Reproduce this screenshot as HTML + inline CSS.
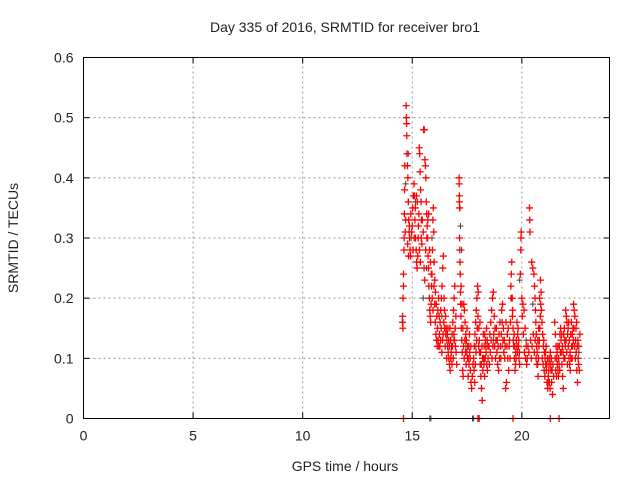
<!DOCTYPE html>
<html><head><meta charset="utf-8"><style>
body{margin:0;background:#fff}
svg text{font-family:"Liberation Sans",sans-serif;font-size:14px;fill:#222}
</style></head><body>
<svg id="chart" width="640" height="480" xmlns="http://www.w3.org/2000/svg">
<text x="345" y="32" text-anchor="middle">Day 335 of 2016, SRMTID for receiver bro1</text>
<text x="345" y="471" text-anchor="middle">GPS time / hours</text>
<text transform="translate(18,238) rotate(-90)" text-anchor="middle">SRMTID / TECUs</text>
<g id="grid"></g>
<g id="axes"></g>
<g id="grey" stroke="#404040" stroke-width="1"></g>
<g id="red" stroke="#ff0000" stroke-width="1.3"></g>
<rect x="83.5" y="57.5" width="526" height="361" fill="none" stroke="#000"/>
</svg>
<script>
const xTicks=[0,5,10,15,20];
const yTicks=[0,0.1,0.2,0.3,0.4,0.5,0.6];
const yTickLabels=["0","0.1","0.2","0.3","0.4","0.5","0.6"];
const redPoints=[
[14.55,0.16],[14.56,0.17],[14.57,0.15],[14.58,0.2],[14.6,0.22],[14.6,0.24],[14.62,0.28],[14.63,0.3],[14.64,0.34],[14.65,0.38],[14.66,0.42],
[14.72,0.52],[14.73,0.5],[14.74,0.49],[14.75,0.47],[14.76,0.44],[14.78,0.42],[14.8,0.4],[14.82,0.36],[14.84,0.33],[14.86,0.31],[14.88,0.3],[14.9,0.28],[14.92,0.27],
[15.0,0.32],[15.02,0.35],[15.05,0.37],[15.08,0.39],[15.1,0.37],[15.12,0.33],[15.15,0.3],[15.18,0.28],[15.2,0.26],[15.22,0.25],[15.25,0.27],[15.28,0.32],[15.3,0.34],[15.32,0.45],[15.34,0.44],[15.36,0.41],[15.38,0.38],[15.4,0.36],[15.42,0.33],[15.44,0.29],
[15.52,0.48],[15.55,0.48],[15.58,0.43],[15.6,0.42],[15.62,0.4],
[15.64,0.36],[15.66,0.34],[15.68,0.32],[15.7,0.3],[15.72,0.27],[15.74,0.25],[15.76,0.22],[15.78,0.2],[15.8,0.18],[15.82,0.17],[15.84,0.16],[15.86,0.19],[15.88,0.22],[15.9,0.24],[15.92,0.28],[15.94,0.33],[15.96,0.35],[15.98,0.31],
[16.0,0.26],[16.03,0.23],[16.06,0.21],[16.09,0.19],[16.12,0.17],[16.15,0.15],[16.18,0.13],[16.21,0.12],[16.24,0.14],[16.27,0.16],[16.3,0.18],[16.33,0.2],[16.36,0.22],[16.39,0.25],[16.42,0.27],[16.45,0.2],[16.48,0.15],[16.5,0.12],
[16.52,0.17],[16.55,0.15],[16.58,0.13],[16.61,0.12],[16.64,0.11],[16.67,0.1],[16.7,0.09],[16.73,0.08],[16.76,0.1],[16.79,0.12],[16.82,0.14],[16.85,0.16],[16.88,0.18],[16.91,0.2],[16.94,0.22],[16.97,0.12],[17.0,0.11],[17.03,0.09],
[17.14,0.4],[17.14,0.39],[17.15,0.37],[17.15,0.36],[17.16,0.35],[17.16,0.3],[17.17,0.28],[17.18,0.26],[17.19,0.24],[17.2,0.21],[17.21,0.19],[17.22,0.17],[17.24,0.15],[17.26,0.13],[17.28,0.11],[17.3,0.08],[17.32,0.07],
[17.35,0.19],[17.38,0.18],[17.41,0.16],[17.44,0.14],[17.47,0.13],[17.5,0.15],[17.53,0.12],[17.56,0.1],[17.59,0.09],[17.62,0.11],[17.65,0.08],[17.68,0.06],[17.71,0.05],[17.74,0.07],[17.77,0.09],
[17.8,0.1],[17.83,0.12],[17.86,0.14],[17.89,0.16],[17.92,0.18],[17.95,0.2],[17.98,0.22],[18.01,0.21],[18.04,0.15],[18.07,0.11],[18.1,0.09],[18.13,0.07],[18.16,0.05],[18.19,0.03],[18.22,0.08],[18.25,0.1],[18.28,0.12],[18.31,0.14],[18.34,0.13],[18.37,0.11],[18.4,0.09],[18.43,0.08],[18.46,0.1],
[18.5,0.12],[18.54,0.14],[18.58,0.16],[18.62,0.18],[18.66,0.2],[18.7,0.21],[18.74,0.17],[18.78,0.15],[18.82,0.13],[18.86,0.11],[18.9,0.09],[18.94,0.08],[18.98,0.1],[19.02,0.12],[19.06,0.14],[19.1,0.16],[19.14,0.13],[19.18,0.11],[19.22,0.1],[19.26,0.05],[19.3,0.06],[19.34,0.14],[19.38,0.15],[19.42,0.12],[19.46,0.1],
[19.5,0.22],[19.52,0.24],[19.54,0.26],[19.56,0.2],[19.58,0.18],[19.6,0.15],[19.63,0.12],[19.66,0.1],[19.69,0.08],[19.72,0.11],[19.75,0.13],[19.78,0.16],[19.81,0.14],[19.84,0.12],[19.87,0.1],[19.9,0.09],[19.95,0.28],[19.96,0.3],[19.97,0.31],[20.0,0.2],[20.05,0.19],[20.1,0.18],[20.15,0.15],[20.2,0.12],[20.25,0.1],
[20.35,0.35],[20.36,0.33],[20.37,0.31],[20.45,0.26],[20.5,0.25],[20.55,0.24],[20.58,0.22],[20.6,0.2],[20.62,0.18],[20.64,0.16],[20.66,0.14],[20.68,0.12],[20.7,0.11],[20.72,0.09],[20.74,0.07],[20.76,0.1],[20.78,0.12],[20.8,0.13],[20.82,0.15],[20.84,0.17],[20.86,0.19],[20.88,0.21],[20.92,0.16],[20.95,0.14],[20.98,0.12],
[21.0,0.13],[21.03,0.11],[21.06,0.1],[21.09,0.09],[21.12,0.08],[21.15,0.06],[21.18,0.05],[21.21,0.07],[21.24,0.09],[21.27,0.1],[21.3,0.11],[21.33,0.08],[21.36,0.06],[21.4,0.04],[21.45,0.07],
[21.5,0.16],[21.53,0.14],[21.56,0.12],[21.59,0.1],[21.62,0.09],[21.65,0.08],[21.68,0.1],[21.71,0.12],[21.74,0.14],[21.77,0.15],[21.8,0.11],[21.83,0.09],[21.86,0.07],[21.89,0.05],[21.92,0.1],[21.95,0.13],[21.98,0.12],
[22.0,0.18],[22.03,0.17],[22.06,0.16],[22.09,0.14],[22.12,0.12],[22.15,0.1],[22.18,0.09],[22.21,0.08],[22.24,0.1],[22.27,0.12],[22.3,0.14],[22.33,0.15],[22.36,0.19],[22.39,0.18],[22.42,0.17],[22.45,0.13],[22.48,0.11],[22.51,0.08],[22.54,0.06],[22.57,0.1],[22.6,0.12],[22.65,0.14],
[14.68,0.31],[14.7,0.33],[14.79,0.29],[14.83,0.27],[14.87,0.32],[14.93,0.34],[14.97,0.31],[15.04,0.28],[15.09,0.3],[15.14,0.35],[15.19,0.37],[15.23,0.36],[15.27,0.3],[15.33,0.28],[15.37,0.26],[15.41,0.3],[15.46,0.33],[15.5,0.31],[15.54,0.25],[15.57,0.23],[15.61,0.28],[15.67,0.3],[15.71,0.33],[15.75,0.34],[15.79,0.28],[15.83,0.26],[15.87,0.24],[15.91,0.2],[15.95,0.18],[15.99,0.22],
[16.02,0.19],[16.05,0.16],[16.08,0.14],[16.11,0.13],[16.14,0.12],[16.17,0.18],[16.2,0.2],[16.23,0.17],[16.26,0.12],[16.29,0.13],[16.32,0.15],[16.35,0.11],[16.38,0.13],[16.41,0.14],[16.44,0.16],[16.47,0.18],[16.53,0.14],[16.57,0.1],[16.6,0.14],[16.63,0.15],[16.66,0.13],[16.69,0.12],[16.72,0.15],[16.75,0.13],[16.78,0.11],[16.81,0.09],[16.84,0.12],[16.87,0.1],[16.9,0.14],[16.93,0.13],[16.96,0.15],[16.99,0.17],
[17.23,0.22],[17.27,0.19],[17.31,0.15],[17.34,0.12],[17.37,0.1],[17.4,0.13],[17.43,0.11],[17.46,0.09],[17.49,0.11],[17.52,0.1],[17.55,0.07],[17.58,0.12],[17.61,0.14],[17.64,0.1],[17.67,0.12],
[17.82,0.08],[17.85,0.06],[17.88,0.09],[17.91,0.11],[17.94,0.13],[17.97,0.15],[18.0,0.17],[18.03,0.12],[18.06,0.13],[18.09,0.16],[18.12,0.11],[18.15,0.09],[18.18,0.12],[18.21,0.1],[18.24,0.14],[18.27,0.09],[18.3,0.07],[18.33,0.1],[18.36,0.12],[18.39,0.15],[18.42,0.13],[18.45,0.12],
[18.52,0.09],[18.56,0.11],[18.6,0.13],[18.64,0.1],[18.68,0.12],[18.72,0.14],[18.76,0.12],[18.8,0.1],[18.84,0.15],[18.88,0.13],[18.92,0.12],[18.96,0.14],[19.0,0.16],[19.04,0.1],[19.08,0.18],[19.12,0.19],[19.16,0.15],[19.2,0.13],[19.24,0.12],[19.28,0.16],[19.32,0.12],[19.36,0.1],[19.4,0.08],[19.44,0.13],[19.48,0.16],
[19.53,0.2],[19.57,0.17],[19.61,0.13],[19.65,0.14],[19.68,0.12],[19.71,0.09],[19.74,0.1],[19.77,0.12],[19.8,0.11],[19.83,0.15],[19.86,0.13],[19.89,0.11],[19.93,0.24],[20.02,0.17],[20.07,0.14],[20.12,0.11],[20.17,0.1],[20.22,0.09],[20.28,0.12],[20.32,0.11],[20.4,0.13],[20.43,0.1],[20.47,0.12],[20.52,0.14],[20.57,0.11],
[20.61,0.13],[20.65,0.1],[20.69,0.09],[20.73,0.13],[20.77,0.15],[20.81,0.2],[20.85,0.23],[20.89,0.18],[20.93,0.1],[20.97,0.09],[21.02,0.08],[21.05,0.07],[21.08,0.11],[21.11,0.12],[21.14,0.09],[21.17,0.1],[21.2,0.06],[21.23,0.08],[21.26,0.06],[21.29,0.05],[21.32,0.09],[21.35,0.1],[21.38,0.08],[21.42,0.09],
[21.52,0.1],[21.55,0.08],[21.58,0.07],[21.61,0.11],[21.64,0.12],[21.67,0.07],[21.7,0.09],[21.73,0.08],[21.76,0.11],[21.79,0.13],[21.82,0.14],[21.85,0.12],[21.88,0.11],[21.91,0.14],[21.94,0.15],[21.97,0.1],
[22.02,0.13],[22.05,0.11],[22.08,0.09],[22.11,0.15],[22.14,0.16],[22.17,0.13],[22.2,0.11],[22.23,0.14],[22.26,0.16],[22.29,0.1],[22.32,0.12],[22.35,0.13],[22.38,0.15],[22.41,0.12],[22.44,0.1],[22.47,0.15],[22.5,0.16],[22.53,0.12],[22.56,0.13],[22.59,0.09],[22.62,0.08],
[14.6,0],[18.0,0],[18.05,0],[19.6,0],[21.3,0],[21.7,0]
];
const greyPoints=[
[14.58,0.16],[14.7,0.39],[14.82,0.44],[14.95,0.3],[15.15,0.36],[15.5,0.2],[15.65,0.25],[15.9,0.3],[16.1,0.19],[16.35,0.17],[16.6,0.14],[16.9,0.13],
[17.18,0.35],[17.2,0.32],[17.25,0.28],[17.45,0.12],[17.9,0.12],[18.3,0.1],[18.7,0.13],[19.1,0.12],[19.5,0.2],[19.9,0.23],[20.2,0.13],[20.5,0.19],
[20.9,0.18],[21.2,0.1],[21.6,0.11],[22.0,0.13],[22.3,0.1],[22.6,0.11],
[15.8,0],[15.85,0],[17.75,0],[17.8,0]
];
const X0=83.5,X1=609.5,Y0=418.5,Y1=57.5,XMAX=24,YMAX=0.6;
const NS="http://www.w3.org/2000/svg";
function xs(t){return X0+(X1-X0)*t/XMAX;}
function ys(v){return Y0-(Y0-Y1)*v/YMAX;}
function mk(tag,attrs,parent){const e=document.createElementNS(NS,tag);for(const k in attrs)e.setAttribute(k,attrs[k]);parent.appendChild(e);return e;}
const grid=document.getElementById('grid'),axes=document.getElementById('axes');
xTicks.forEach(function(t){
  const x=xs(t);
  if(t>0){const g=mk('line',{x1:x,y1:Y0,x2:x,y2:Y1,stroke:'#999','stroke-dasharray':'2,3'},grid);
  
  }
  mk('line',{x1:x,y1:Y0,x2:x,y2:Y0-6,stroke:'#000'},axes);
  mk('line',{x1:x,y1:Y1,x2:x,y2:Y1+6,stroke:'#000'},axes);
  const tx=mk('text',{x:x,y:Y0+22,'text-anchor':'middle'},axes);
  tx.textContent=String(t);
  
  
});
yTicks.forEach(function(v,i){
  const y=ys(v);
  if(v>0&&v<YMAX){const g=mk('line',{x1:X0,y1:y,x2:X1,y2:y,stroke:'#999','stroke-dasharray':'2,3'},grid);
  
  }
  mk('line',{x1:X0,y1:y,x2:X0+6,y2:y,stroke:'#000'},axes);
  mk('line',{x1:X1,y1:y,x2:X1-6,y2:y,stroke:'#000'},axes);
  const tx=mk('text',{x:X0-10,y:y+5,'text-anchor':'end'},axes);
  tx.textContent=yTickLabels[i];
  
  
});
function plus(g,t,v,r,name){
  const x=xs(t),y=ys(v);
  const p=mk('path',{d:'M'+(x-r)+' '+y+'H'+(x+r)+'M'+x+' '+(y-r)+'V'+(y+r)},g);
  
  
}
const gg=document.getElementById('grey'),rg=document.getElementById('red');
greyPoints.forEach(function(p){plus(gg,p[0],p[1],3,'grey-point');});
redPoints.forEach(function(p){plus(rg,p[0],p[1],3.5,'red-point');});
</script>
</body></html>
